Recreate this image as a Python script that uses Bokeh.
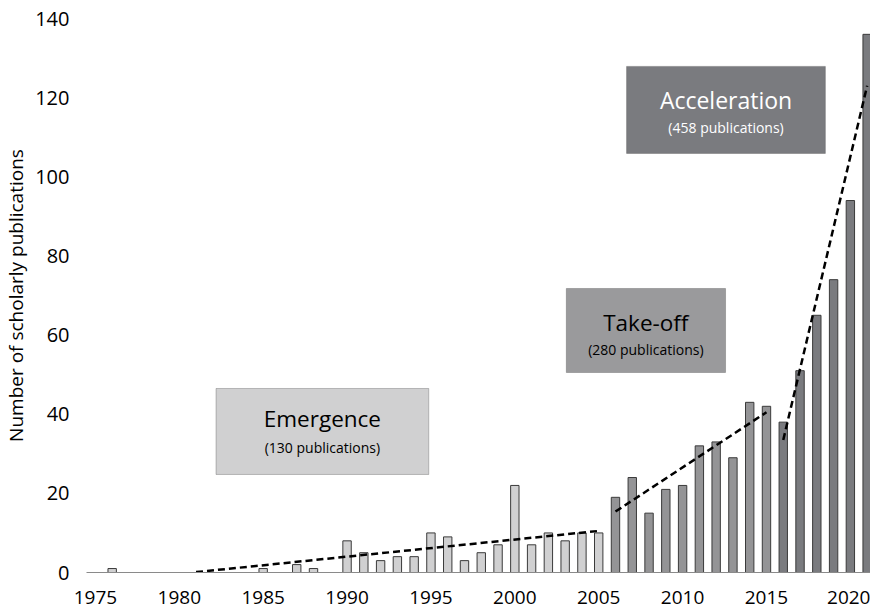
from bokeh.plotting import figure
from bokeh.models import Range1d, FixedTicker, ColumnDataSource, BoxAnnotation, Label
from bokeh.embed import file_html
from bokeh.resources import INLINE

# ---- data ----
years_emergence = [1976, 1985, 1987, 1988, 1990, 1991, 1992, 1993, 1994, 1995,
                   1996, 1997, 1998, 1999, 2000, 2001, 2002, 2003, 2004, 2005]
counts_emergence = [1, 1, 2, 1, 8, 5, 3, 4, 4, 10, 9, 3, 5, 7, 22, 7, 10, 8, 10, 10]

years_takeoff = [2006, 2007, 2008, 2009, 2010, 2011, 2012, 2013, 2014, 2015]
counts_takeoff = [19, 24, 15, 21, 22, 32, 33, 29, 43, 42]

years_accel = [2016, 2017, 2018, 2019, 2020, 2021]
counts_accel = [38, 51, 65, 74, 94, 136]

trend_emergence_x = [1981, 2005]
trend_emergence_y = [0.1, 10.5]
trend_takeoff_x = [2006, 2015]
trend_takeoff_y = [15.4, 40.5]
trend_accel_x = [2016, 2021]
trend_accel_y = [33.5, 123]

phase_titles = ["Emergence", "Take-off", "Acceleration"]
phase_subtitles = ["(130 publications)", "(280 publications)", "(458 publications)"]

x_ticks = [1975, 1980, 1985, 1990, 1995, 2000, 2005, 2010, 2015, 2020]
y_ticks = [0, 20, 40, 60, 80, 100, 120, 140]

FONT = "Open Sans"
C_EMER = "#d0d0d1"
C_TAKE = "#949496"
C_ACC = "#7a7b7f"
EDGE = "#3a3a3a"

p = figure(width=870, height=612, output_backend="svg", toolbar_location=None,
           x_range=Range1d(1974.47, 2021.2), y_range=Range1d(0, 140),
           min_border_left=78, min_border_right=0, min_border_top=18, min_border_bottom=40)
p.outline_line_color = None
p.background_fill_color = "white"
p.border_fill_color = "white"
p.xgrid.visible = False
p.ygrid.visible = False

# bars
for xs, ys, col in [(years_emergence, counts_emergence, C_EMER),
                    (years_takeoff, counts_takeoff, C_TAKE),
                    (years_accel, counts_accel, C_ACC)]:
    src = ColumnDataSource(dict(x=xs, top=ys))
    p.vbar(x="x", top="top", bottom=0, width=0.5, source=src,
           fill_color=col, line_color=EDGE, line_width=1)

# trend lines
for tx, ty in [(trend_emergence_x, trend_emergence_y),
               (trend_takeoff_x, trend_takeoff_y),
               (trend_accel_x, trend_accel_y)]:
    p.line(tx, ty, line_color="black", line_width=2.5, line_dash="7 4")

# phase boxes (data coordinates)
boxes = [
    dict(left=1982.19, right=1994.87, bottom=24.77, top=46.5, fill=C_EMER,
         cx=1988.53, ty=38.9, sy=31.6, tc="black", ts="22.5px"),
    dict(left=2003.07, right=2012.56, bottom=50.54, top=71.77, fill="#9a9a9c",
         cx=2007.81, ty=63.2, sy=56.4, tc="black", ts="22.5px"),
    dict(left=2006.66, right=2018.51, bottom=105.9, top=127.9, fill=C_ACC,
         cx=2012.59, ty=119.3, sy=112.5, tc="white", ts="23px"),
]
for b, title, sub in zip(boxes, phase_titles, phase_subtitles):
    p.add_layout(BoxAnnotation(left=b["left"], right=b["right"], bottom=b["bottom"], top=b["top"],
                               fill_color=b["fill"], fill_alpha=1.0,
                               line_color="#404040", line_width=1, level="overlay"))
    p.add_layout(Label(x=b["cx"], y=b["ty"], text=title, text_align="center",
                       text_baseline="middle", text_font=FONT, text_font_size=b["ts"],
                       text_color=b["tc"], level="overlay"))
    p.add_layout(Label(x=b["cx"], y=b["sy"], text=sub, text_align="center",
                       text_baseline="middle", text_font=FONT, text_font_size="14px",
                       text_color=b["tc"], level="overlay"))

# axes
p.xaxis.ticker = FixedTicker(ticks=x_ticks)
p.yaxis.ticker = FixedTicker(ticks=y_ticks)
p.xaxis.axis_line_color = "#8a8a8a"
p.xaxis.axis_line_width = 1
p.xaxis.major_tick_line_color = None
p.xaxis.minor_tick_line_color = None
p.xaxis.major_label_text_font = FONT
p.xaxis.major_label_text_font_size = "19px"
p.xaxis.major_label_text_color = "black"
p.xaxis.major_label_standoff = 12

p.yaxis.axis_line_color = None
p.yaxis.major_tick_line_color = None
p.yaxis.minor_tick_line_color = None
p.yaxis.major_label_text_font = FONT
p.yaxis.major_label_text_font_size = "20px"
p.yaxis.major_label_text_color = "black"
p.yaxis.major_label_standoff = 11
p.yaxis.axis_label = "Number of scholarly publications"
p.yaxis.axis_label_text_font = FONT
p.yaxis.axis_label_text_font_size = "19px"
p.yaxis.axis_label_text_font_style = "normal"
p.yaxis.axis_label_text_color = "black"
p.yaxis.axis_label_standoff = 3

open("out.html", "w").write(file_html(p, INLINE))
